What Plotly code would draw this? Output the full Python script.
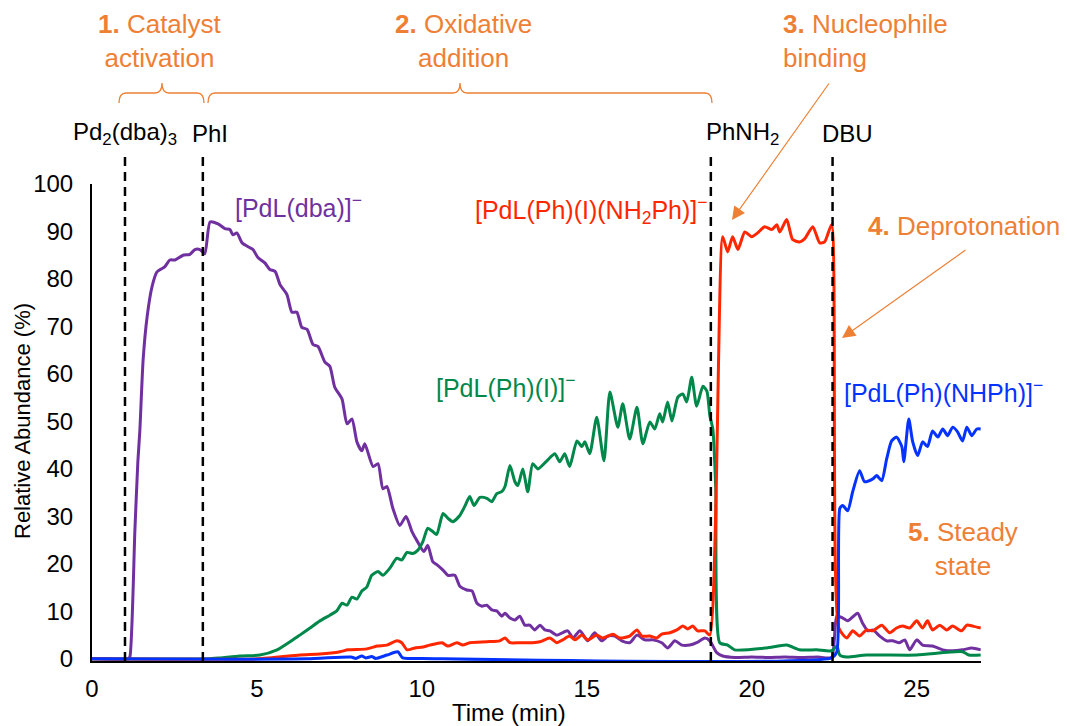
import plotly.graph_objects as go

# ---------------------------------------------------------------------------
# Reaction monitoring data: time (min) vs. relative abundance (%)
# ---------------------------------------------------------------------------
t_dba = [0, 1.10, 1.15, 1.30, 1.39, 1.45, 1.55, 1.67, 1.82, 1.97, 2.21, 2.36, 2.52, 2.76,
         2.97, 3.12, 3.27, 3.42, 3.58, 3.82, 4.03, 4.18, 4.27, 4.39, 4.55, 4.73, 4.88, 5.03,
         5.24, 5.39, 5.55, 5.70, 5.91, 6.06, 6.21, 6.36, 6.52, 6.70, 6.85, 7.06, 7.21, 7.36,
         7.58, 7.73, 7.88, 8.03, 8.18, 8.27, 8.52, 8.67, 8.82, 8.94, 9.12, 9.33, 9.52, 9.70,
         9.85, 10.06, 10.18, 10.33, 10.48, 10.64, 10.79, 11.00, 11.15, 11.36, 11.52, 11.67,
         11.82, 11.97, 12.12, 12.27, 12.42, 12.52, 12.67, 12.82, 12.97, 13.12, 13.27, 13.42,
         13.58, 13.73, 13.88, 14.09, 14.42, 14.58, 14.79, 15.03, 15.24, 15.45, 15.64, 15.85,
         16.06, 16.30, 16.52, 16.76, 17.00, 17.27, 17.45, 17.67, 17.88, 18.12, 18.33, 18.58,
         18.73, 18.94, 19.12, 19.50, 20.00, 20.50, 21.00, 21.50, 22.00, 22.42, 22.58, 22.76,
         22.91, 23.21, 23.36, 23.52, 23.67, 23.88, 24.09, 24.27, 24.48, 24.64, 24.79, 25.00,
         25.18, 25.48, 25.79, 26.09, 26.39, 26.67, 26.94]
y_dba = [0, 0, 0.5, 27, 41.5, 48, 63, 72, 78.4, 81.5, 82.6, 84, 84, 85,
         85.2, 86.2, 86.2, 85.3, 92, 91.6, 90.6, 90.4, 89.3, 89.7, 87.6, 86.8, 86.2, 84.5,
         83.4, 82, 81.6, 78.8, 76.7, 73, 73, 69.8, 69.4, 66.2, 65.8, 62.5, 61.6, 57.2,
         54.7, 49.5, 50.5, 45.7, 43.8, 45.3, 40.5, 41.1, 35.8, 36.3, 31.7, 28.1, 30, 26.8,
         24.9, 22.6, 23.9, 20.5, 19.7, 18.7, 17.6, 17.6, 15.3, 14.5, 14.3, 11.7,
         11.1, 11.3, 10.3, 10.1, 9.0, 9.6, 8.6, 8.2, 9.0, 7.1, 7.1, 6.1,
         7.1, 6.1, 5.9, 5.0, 5.9, 4.4, 5.9, 3.8, 5.5, 3.8, 4.8, 4.8,
         3.8, 3.4, 5.0, 4.0, 4.0, 3.4, 2.3, 3.8, 2.9, 2.9, 3.4, 4.4,
         3.8, 1.3, 0.6, 0.3, 0.4, 0.3, 0.4, 0.3, 0.4, 0.3, 9.0, 8.6,
         8.0, 9.6, 7.5, 5.9, 6.1, 4.8, 3.8, 3.8, 3.4, 4.0, 1.9, 4.0,
         2.9, 2.7, 1.9, 1.7, 1.9, 2.3, 1.9]

t_phi = [0, 3.50, 3.88, 4.48, 5.09, 5.61, 6.09, 6.30, 6.61, 6.91, 7.21, 7.42, 7.58, 7.73,
         7.88, 8.03, 8.18, 8.33, 8.48, 8.67, 8.82, 9.03, 9.24, 9.39, 9.55, 9.73, 9.88, 10.03,
         10.18, 10.33, 10.45, 10.64, 10.79, 10.94, 11.15, 11.30, 11.45, 11.58, 11.76, 11.97,
         12.12, 12.27, 12.42, 12.52, 12.67, 12.82, 12.91, 13.06, 13.21, 13.36, 13.52, 13.79,
         14.03, 14.18, 14.33, 14.48, 14.70, 14.85, 14.94, 15.09, 15.30, 15.52, 15.70, 15.94,
         16.09, 16.30, 16.52, 16.70, 16.91, 17.06, 17.21, 17.30, 17.45, 17.58, 17.76, 17.91,
         18.03, 18.18, 18.33, 18.52, 18.64, 18.73, 18.82, 18.91, 19.03, 19.27, 19.48, 20.45,
         21.06, 21.45, 21.97, 22.42, 22.58, 22.67, 22.88, 23.48, 25.00, 26.39, 26.58, 26.94]
y_phi = [0, 0, 0.2, 0.6, 0.8, 1.9, 4.0, 5.0, 6.5, 8.0, 9.2, 10.1, 11.7, 11.3,
         13.0, 12.6, 14.3, 15.1, 17.6, 18.4, 17.6, 19.1, 21.2, 20.8, 22.4, 22.2, 22.9, 24.7,
         27.5, 26.8, 26.2, 30.6, 29.6, 28.9, 30.2, 32.1, 34.2, 32.3, 34.0, 33.8,
         33.1, 34.8, 35.2, 36.3, 40.7, 37.3, 36.5, 40.0, 35.2, 41.1, 40.0, 41.7,
         43.2, 41.5, 43.2, 40.5, 45.9, 44.7, 45.7, 43.2, 50.9, 41.7, 56.2, 48.8,
         53.7, 46.3, 53.0, 45.3, 49.9, 48.4, 51.6, 49.9, 54.1, 50.1, 55.1, 55.8,
         54.1, 59.3, 53.2, 57.4, 56.4, 51.2, 48.4, 35.8, 3.4, 2.9, 1.9, 2.3,
         2.9, 1.9, 1.9, 1.7, 2.7, 0.8, 0.4, 0.8, 0.8, 1.5, 0.8, 0.8]

t_nh2 = [0, 5.00, 6.30, 6.91, 7.52, 7.76, 8.33, 8.64, 8.94, 9.24, 9.39, 9.55, 9.79, 10.03,
         10.24, 10.61, 10.79, 11.06, 11.24, 11.45, 11.97, 12.36, 12.52, 12.67, 12.97, 13.36,
         13.58, 13.88, 14.09, 14.27, 14.48, 14.64, 14.85, 15.03, 15.30, 15.48, 15.79, 16.00,
         16.30, 16.52, 16.67, 16.91, 17.12, 17.27, 17.52, 17.73, 17.91, 18.06, 18.21, 18.36,
         18.58, 18.73, 19.12, 19.27, 19.42, 19.58, 19.79, 20.00, 20.18, 20.39, 20.61, 20.76,
         20.85, 21.06, 21.24, 21.45, 21.61, 21.85, 22.06, 22.21, 22.42, 22.64, 22.88, 23.06,
         23.27, 23.48, 23.67, 23.94, 24.18, 24.39, 24.58, 24.79, 25.00, 25.18, 25.33, 25.48,
         25.70, 25.91, 26.09, 26.36, 26.52, 26.70, 26.94]
y_nh2 = [0, 0, 0.8, 1.0, 1.5, 1.9, 2.1, 2.7, 2.9, 3.8, 3.4, 1.9, 2.3, 2.5,
         2.9, 3.4, 2.7, 3.4, 2.9, 3.4, 3.6, 3.8, 4.4, 3.4, 3.4, 3.4,
         3.6, 4.4, 3.4, 4.0, 4.8, 4.0, 5.0, 4.0, 5.0, 4.4, 5.2, 4.4,
         4.8, 6.1, 4.8, 4.8, 4.4, 5.2, 5.5, 6.1, 6.9, 6.3, 6.9, 5.9,
         5.9, 5.0, 88.9, 85.7, 88.9, 86.2, 89.9, 88.9, 89.7, 91.0, 90.4, 91.4,
         89.9, 92.5, 88.3, 87.8, 88.5, 91.0, 87.6, 87.8, 91.4, 6.5, 4.4, 5.9,
         4.8, 6.1, 5.9, 7.1, 5.5, 6.5, 6.9, 6.5, 8.0, 6.5, 8.0, 6.1,
         7.1, 6.1, 6.9, 5.9, 7.1, 6.9, 6.5]

t_nhph = [0, 6.50, 7.85, 8.00, 8.18, 8.30, 8.48, 8.60, 8.94, 9.27, 9.42, 10.00, 22.42,
          22.58, 22.67, 22.76, 22.91, 23.06, 23.27, 23.42, 23.67, 23.79, 23.94, 24.09, 24.24,
          24.39, 24.55, 24.61, 24.76, 24.88, 25.03, 25.18, 25.33, 25.48, 25.64, 25.79, 25.94,
          26.09, 26.24, 26.39, 26.52, 26.67, 26.82, 26.94]
y_nhph = [0, 0, 0.4, 0.1, 0.6, 0.2, 0.5, 0.1, 0.8, 1.5, 0.2, 0.1, 0.2,
          1.5, 31.7, 32.3, 31.2, 35.2, 39.6, 37.3, 37.9, 38.6, 37.5, 42.1, 45.9,
          46.7, 44.7, 41.5, 50.5, 45.7, 42.8, 45.7, 44.7, 48.0, 46.7, 48.4, 47.0,
          48.8, 47.8, 45.9, 48.8, 47.0, 48.4, 48.4]

# Reagent additions (min) and their labels
event_t = [1.0, 3.36, 18.76, 22.45]
event_labels = ["Pd<sub>2</sub>(dba)<sub>3</sub>", "PhI", "PhNH<sub>2</sub>", "DBU"]

x_ticks = [0, 5, 10, 15, 20, 25]
y_ticks = list(range(0, 101, 10))

PURPLE, GREEN, RED, BLUE = "#7030A0", "#00884B", "#FF2600", "#0433FF"
ORANGE = "#EE8035"
FONT = "Liberation Sans, Arial, Helvetica, sans-serif"

# Plot-area geometry in pixels (used to place the surrounding labels)
W, H = 1067, 726
PL, PR, PT, PB = 92, 981, 184, 661


def px(x):
    return (x - PL) / (PR - PL)


def py(y):
    return (PB - y) / (PB - PT)


fig = go.Figure()
series = [
    (t_dba, y_dba, PURPLE),
    (t_phi, y_phi, GREEN),
    (t_nh2, y_nh2, RED),
    (t_nhph, y_nhph, BLUE),
]
for t, y, c in series:
    fig.add_trace(go.Scatter(
        x=t, y=y, mode="lines",
        line=dict(color=c, width=3, shape="spline", smoothing=0.6),
        showlegend=False, hoverinfo="x+y",
    ))

shapes = []
annotations = []

# Dashed markers for each reagent addition; names sit just above them
label_px = [125, 210, 742, 847]
for te, lab, lx in zip(event_t, event_labels, label_px):
    shapes.append(dict(type="line", xref="x", yref="paper", x0=te, x1=te,
                       y0=0, y1=py(153), layer="above",
                       line=dict(color="black", width=2.5, dash="9px,6px")))
    annotations.append(dict(xref="paper", yref="paper", x=px(lx), y=py(133),
                            text=lab, showarrow=False, xanchor="center",
                            yanchor="middle",
                            font=dict(family=FONT, size=24, color="black")))


def brace(x0, x1, xm, yh=93, yb=103, yt=83, r=7):
    """Curly brace between pixel x0 and x1 with its tip at xm."""
    pts = []

    def P(x, y):
        return f"{px(x):.5f},{py(y):.5f}"
    pts.append(f"M{P(x0, yb)}")
    pts.append(f"Q{P(x0, yh)} {P(x0 + r, yh)}")
    pts.append(f"L{P(xm - r, yh)}")
    pts.append(f"Q{P(xm, yh)} {P(xm, yt)}")
    pts.append(f"Q{P(xm, yh)} {P(xm + r, yh)}")
    pts.append(f"L{P(x1 - r, yh)}")
    pts.append(f"Q{P(x1, yh)} {P(x1, yb)}")
    return " ".join(pts)


for x0, x1, xm in [(119, 204, 162), (208, 712, 460)]:
    shapes.append(dict(type="path", xref="paper", yref="paper",
                       path=brace(x0, x1, xm),
                       line=dict(color=ORANGE, width=1.3)))

# Stage annotations
ofont = dict(family=FONT, size=26, color=ORANGE)
annotations += [
    dict(x=px(160), y=py(41), text="<b>1.</b> Catalyst<br>activation",
         xanchor="center", align="center"),
    dict(x=px(463), y=py(41), text="<b>2.</b> Oxidative<br>addition",
         xanchor="center", align="center"),
    dict(x=px(781), y=py(41), text="<b>3.</b> Nucleophile<br>binding",
         xanchor="left", align="left"),
    dict(x=px(866), y=py(226), text="<b>4.</b> Deprotonation",
         xanchor="left", align="left"),
    dict(x=px(963), y=py(549), text="<b>5.</b> Steady<br>state",
         xanchor="center", align="center"),
]
for a in annotations[-5:]:
    a.update(xref="paper", yref="paper", yanchor="middle", showarrow=False,
             font=ofont)

# Arrows pointing at the step changes
for (hx, hy), (tx, ty) in [((732, 220), (830, 82)), ((842, 338), (967, 249))]:
    annotations.append(dict(xref="paper", yref="paper", x=px(hx), y=py(hy),
                            ax=tx - hx, ay=ty - hy, text="", showarrow=True,
                            arrowhead=2, arrowsize=2.2, arrowwidth=1.2,
                            arrowcolor=ORANGE))

# Species labels
sfont = 25
annotations += [
    dict(x=px(233), y=py(206), text="[PdL(dba)]<sup>−</sup>", xanchor="left",
         font=dict(family=FONT, size=sfont, color=PURPLE)),
    dict(x=px(710), y=py(210), text="[PdL(Ph)(I)(NH<sub>2</sub>Ph)]<sup>−</sup>",
         xanchor="right", font=dict(family=FONT, size=sfont, color=RED)),
    dict(x=px(434), y=py(386), text="[PdL(Ph)(I)]<sup>−</sup>", xanchor="left",
         font=dict(family=FONT, size=sfont, color=GREEN)),
    dict(x=px(842), y=py(391), text="[PdL(Ph)(NHPh)]<sup>−</sup>", xanchor="left",
         font=dict(family=FONT, size=sfont, color=BLUE)),
]
for a in annotations[-4:]:
    a.update(xref="paper", yref="paper", yanchor="middle", showarrow=False)

# Axis titles
annotations += [
    dict(xref="paper", yref="paper", x=px(509), y=py(712), text="Time (min)",
         showarrow=False, xanchor="center", yanchor="middle",
         font=dict(family=FONT, size=24, color="black")),
    dict(xref="paper", yref="paper", x=px(22), y=py(421),
         text="Relative Abundance (%)", textangle=-90, showarrow=False,
         xanchor="center", yanchor="middle",
         font=dict(family=FONT, size=22, color="black")),
]

fig.update_layout(
    width=W, height=H,
    margin=dict(l=PL, r=W - PR, t=PT, b=H - PB, pad=0),
    paper_bgcolor="white", plot_bgcolor="white",
    font=dict(family=FONT, size=24, color="black"),
    shapes=shapes, annotations=annotations,
    showlegend=False,
)
fig.update_xaxes(range=[0, 26.95], tickvals=x_ticks, showgrid=False, zeroline=False,
                 showline=True, linecolor="black", linewidth=2, ticks="",
                 ticklabelstandoff=5, tickfont=dict(size=24))
fig.update_yaxes(range=[-0.45, 100], tickvals=y_ticks, showgrid=False, zeroline=False,
                 showline=True, linecolor="black", linewidth=2, ticks="",
                 ticklabelstandoff=12, tickfont=dict(size=24))

fig.write_html("out.html")
